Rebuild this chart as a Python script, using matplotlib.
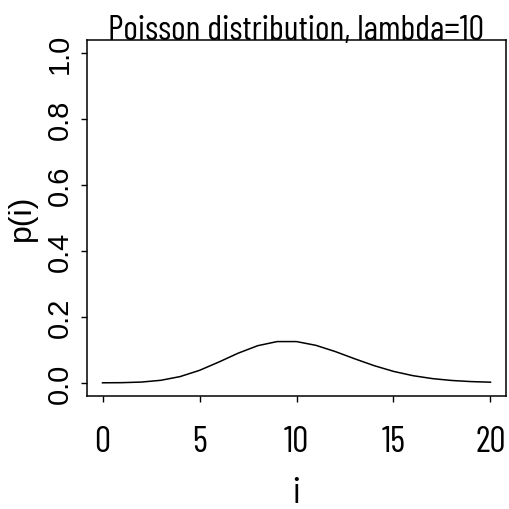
import matplotlib
matplotlib.use("Agg")
import matplotlib.pyplot as plt

# Poisson(10) probabilities, i = 0..20
i_vals = list(range(21))
p_vals = [0.0000454, 0.000454, 0.00227, 0.00757, 0.0189, 0.0378, 0.0631,
          0.0901, 0.1126, 0.1251, 0.1251, 0.1137, 0.0948, 0.0729, 0.0521,
          0.0347, 0.0217, 0.0128, 0.0071, 0.0037, 0.0019]
x_ticks = [0, 5, 10, 15, 20]
y_ticks = [0.0, 0.2, 0.4, 0.6, 0.8, 1.0]
y_ticklabels = ["0.0", "0.2", "0.4", "0.6", "0.8", "1.0"]

narrow = ["Barlow Condensed", "Archivo Narrow", "DejaVu Sans"]
wide = ["Liberation Sans", "DejaVu Sans"]

W, H = 509, 510
fig = plt.figure(figsize=(W / 100, H / 100), dpi=100)
ax = fig.add_axes([87 / W, 1 - 397 / H, (506 - 87) / W, (397 - 41) / H])

ax.plot(i_vals, p_vals, color="black", lw=1.1)
ax.set_xlim(-0.8, 20.8)
ax.set_ylim(-0.04, 1.04)

ax.set_xticks(x_ticks)
ax.set_xticklabels([str(v) for v in x_ticks], fontfamily=narrow, fontsize=26)
ax.set_yticks(y_ticks)
ax.set_yticklabels(y_ticklabels, fontfamily=wide, fontsize=21, rotation=90, va="center")
ax.tick_params(axis="x", length=4, width=1, pad=17)
ax.tick_params(axis="y", length=4, width=1, pad=5.5)
for s in ax.spines.values():
    s.set_linewidth(1.1)

fig.text(296 / W, 1 - 40 / H, "Poisson distribution, lambda=10", ha="center",
         va="baseline", fontfamily=narrow, fontsize=25)
fig.text(296 / W, 1 - 503 / H, "i", ha="center", va="baseline",
         fontfamily=narrow, fontsize=27)
fig.text(22 / W, 1 - 218 / H, "p(i)", ha="center", va="center", rotation=90,
         fontfamily=wide, fontsize=23)

fig.savefig("out.png", dpi=100)
